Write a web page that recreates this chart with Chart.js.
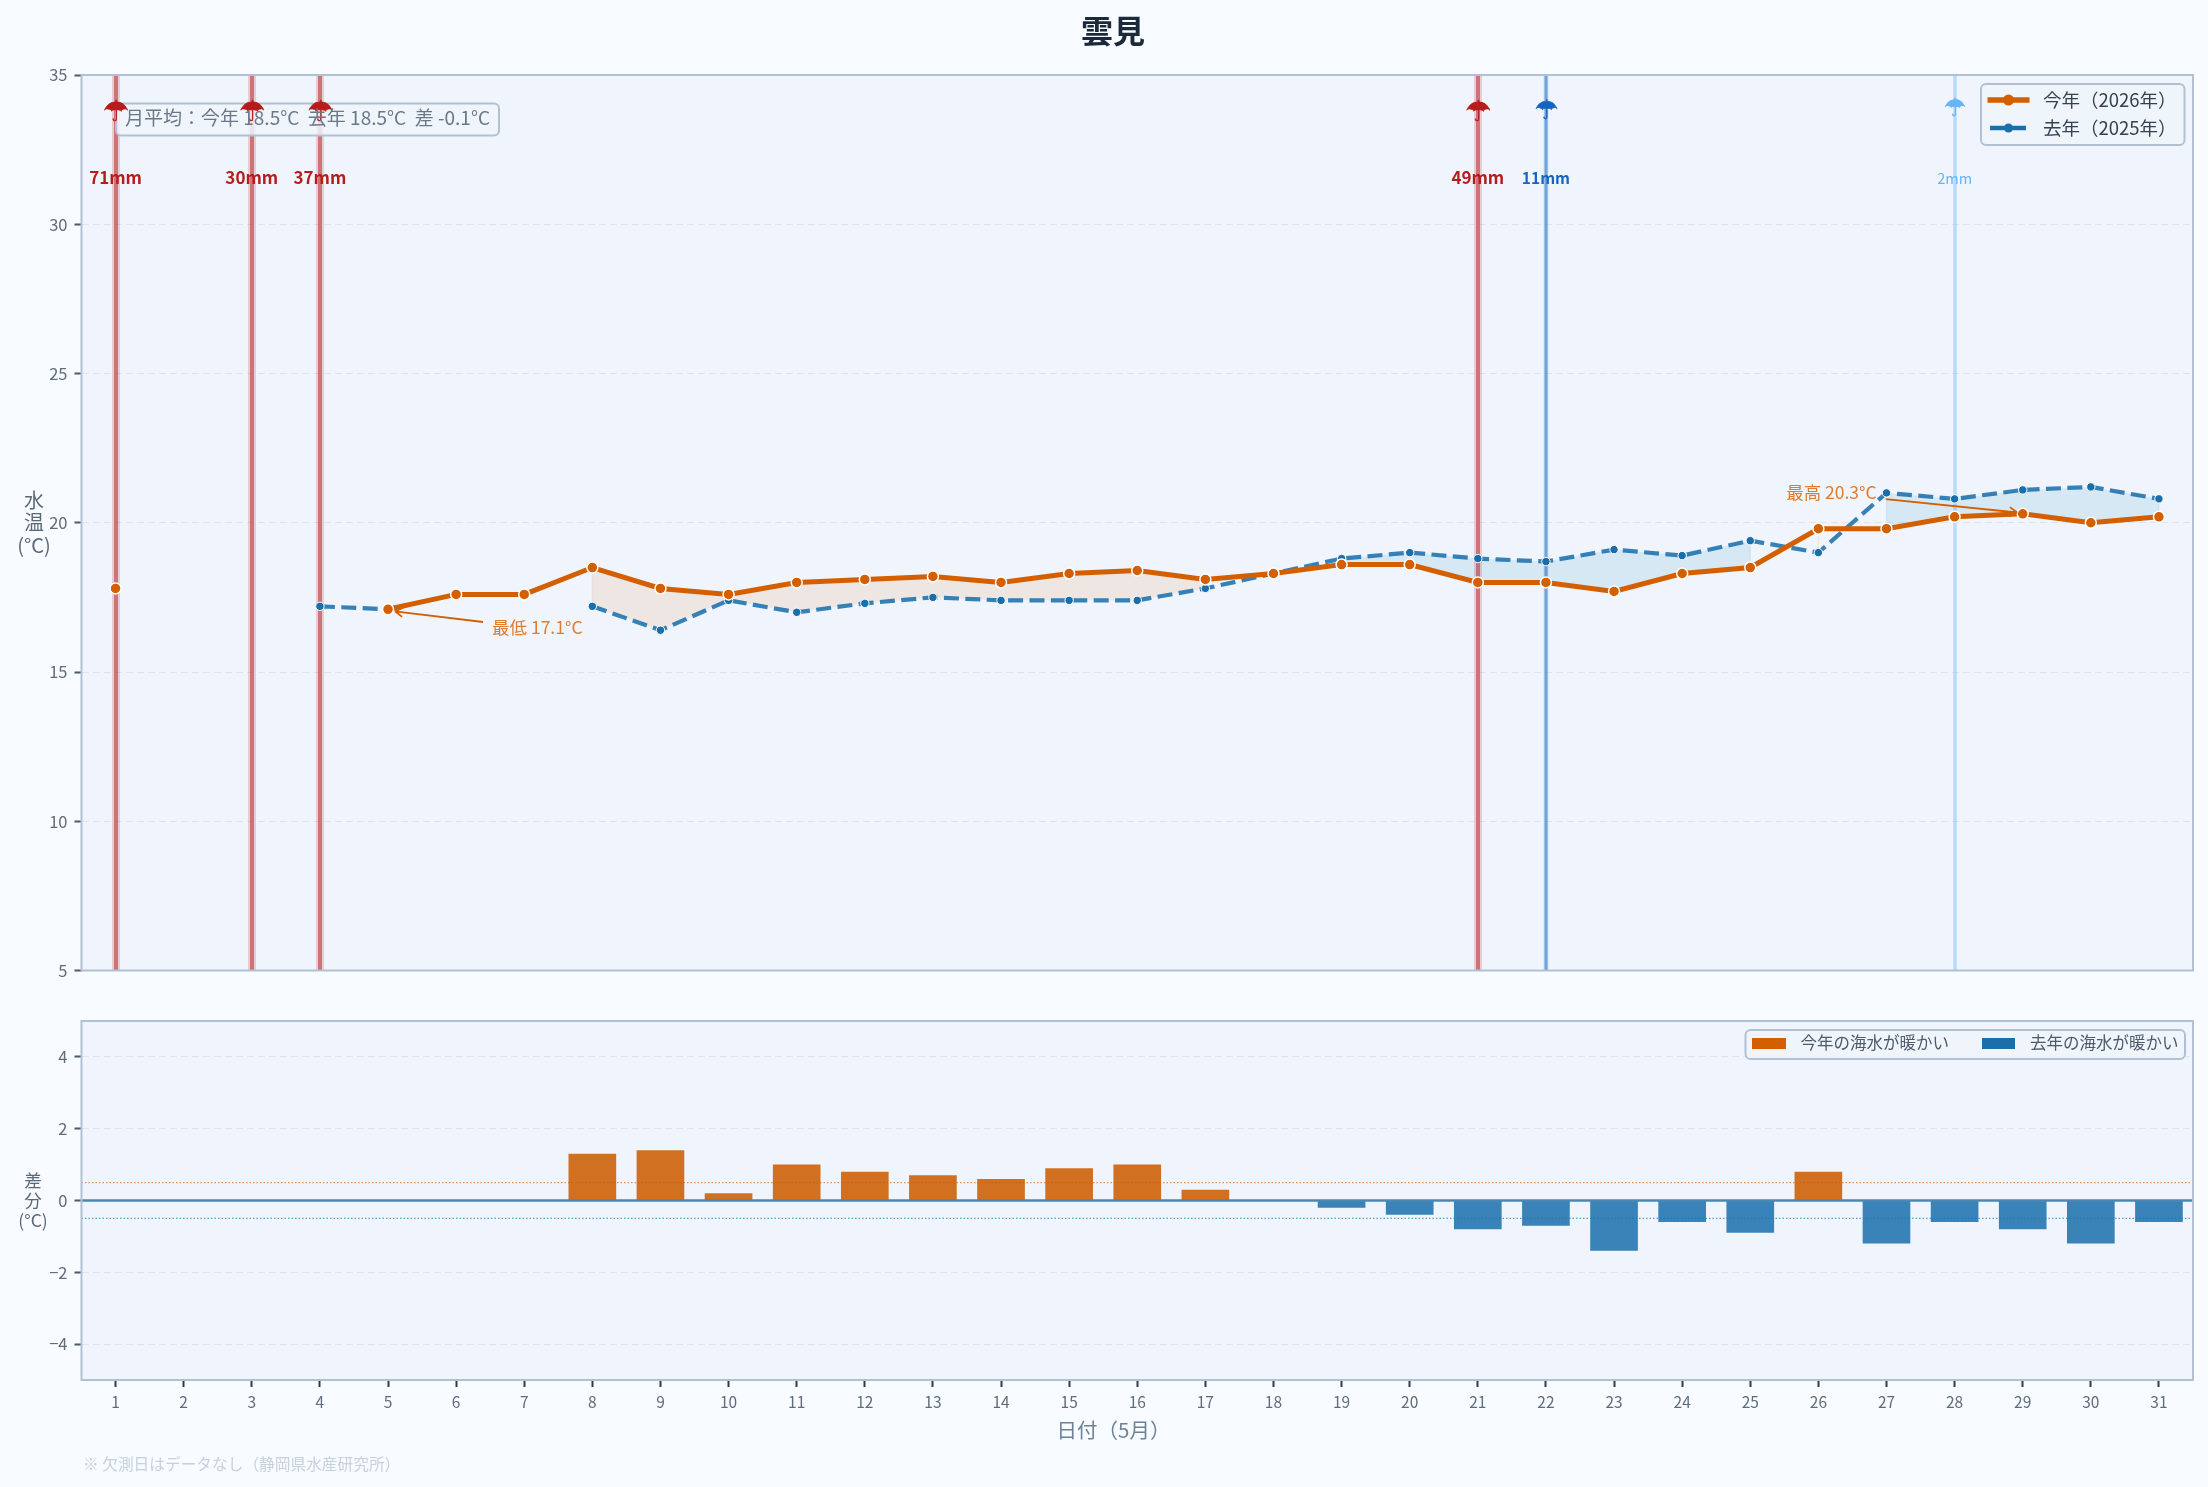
<!DOCTYPE html>
<html lang="ja">
<head>
<meta charset="utf-8">
<title>雲見</title>
<script src="https://cdn.jsdelivr.net/npm/chart.js@4/dist/chart.umd.min.js"></script>
<style>
  html, body { margin: 0; padding: 0; background: #F8FBFF; }
  #page { position: relative; width: 2208px; height: 1487px; overflow: hidden; }
  canvas { position: absolute; left: 0; display: block; }
  #tempChart { top: 0; }
  #diffChart { top: 1000px; }
</style>
</head>
<body>
<div id="page">
  <canvas id="tempChart" width="2208" height="1000"></canvas>
  <canvas id="diffChart" width="2208" height="487"></canvas>
</div>
<script>
// Water temperature at Kumomi, May: this year against last year
const days = [1,2,3,4,5,6,7,8,9,10,11,12,13,14,15,16,17,18,19,20,21,22,23,24,25,26,27,28,29,30,31];
const tempThisYear = [17.8,null,null,null,17.1,17.6,17.6,18.5,17.8,17.6,18.0,18.1,18.2,18.0,18.3,18.4,18.1,18.3,18.6,18.6,18.0,18.0,17.7,18.3,18.5,19.8,19.8,20.2,20.3,20.0,20.2];
const tempLastYear = [null,null,null,17.2,17.1,null,null,17.2,16.4,17.4,17.0,17.3,17.5,17.4,17.4,17.4,17.8,18.3,18.8,19.0,18.8,18.7,19.1,18.9,19.4,19.0,21.0,20.8,21.1,21.2,20.8];
const tempDiff = [null,null,null,null,0,null,null,1.3,1.4,0.2,1.0,0.8,0.7,0.6,0.9,1.0,0.3,0,-0.2,-0.4,-0.8,-0.7,-1.4,-0.6,-0.9,0.8,-1.2,-0.6,-0.8,-1.2,-0.6];
const rainDays = [1,3,4,21,22,28];
const rainMm = [71,30,37,49,11,2];
const tempTicks = [5,10,15,20,25,30,35];
const diffTicks = [-4,-2,0,2,4];
const seriesNames = ['今年（2026年）','去年（2025年）'];
const diffNames = ['今年の海水が暖かい','去年の海水が暖かい'];
const lowDay = 5, highDay = 29;
const lowLabel = '最低 17.1°C', highLabel = '最高 20.3°C';
const averageLabel = '月平均：今年 18.5°C  去年 18.5°C  差 -0.1°C';
const titleText = '雲見';
const xTitle = '日付（5月）';
const footNote = '※ 欠測日はデータなし（静岡県水産研究所）';

const FONT = "'Noto Sans CJK JP'";
const ORANGE = '#D35F00', BLUE = '#1A6FAB';
const PANEL = '#F0F5FD', SPINE = '#B0C1D3', TICK_TEXT = '#5E6C7B', GRID = '#DCE5EF';

Chart.defaults.font.family = FONT;
Chart.defaults.animation = false;

const masked = (values, test) => values.map((v, i) => (test(i) ? v : null));
const isWarm = i => tempThisYear[i] !== null && tempLastYear[i] !== null && tempThisYear[i] > tempLastYear[i];
const isCool = i => tempThisYear[i] !== null && tempLastYear[i] !== null && tempThisYear[i] < tempLastYear[i];

function label(ctx, text, x, y, font, color, align = 'center') {
  ctx.font = font;
  ctx.fillStyle = color;
  ctx.textAlign = align;
  ctx.textBaseline = 'middle';
  ctx.fillText(text, x, y);
}

// Umbrella glyph, centred on its inked bounds
function umbrella(ctx, x, cy, size, color) {
  ctx.font = `${size}px 'DejaVu Sans'`;
  ctx.textAlign = 'center';
  ctx.textBaseline = 'alphabetic';
  const m = ctx.measureText('☂');
  const y = cy + (m.actualBoundingBoxAscent - m.actualBoundingBoxDescent) / 2;
  ctx.fillStyle = color;
  ctx.strokeStyle = color;
  ctx.lineWidth = 0.6;
  ctx.fillText('☂', x, y);
  ctx.strokeText('☂', x, y);
}

function roundedBox(ctx, x0, y0, x1, y1, fill) {
  ctx.beginPath();
  ctx.roundRect(x0, y0, x1 - x0, y1 - y0, 5);
  ctx.fillStyle = fill;
  ctx.fill();
  ctx.lineWidth = 2;
  ctx.strokeStyle = SPINE;
  ctx.stroke();
}

function panelBackground(chart) {
  const { ctx, chartArea: a } = chart;
  ctx.fillStyle = PANEL;
  ctx.fillRect(a.left, a.top, a.right - a.left, a.bottom - a.top);
}

function panelFrame(chart) {
  const { ctx, chartArea: a } = chart;
  ctx.save();
  ctx.strokeStyle = SPINE;
  ctx.lineWidth = 2;
  ctx.strokeRect(a.left, a.top, a.right - a.left, a.bottom - a.top);
  ctx.restore();
}

// Rain intensity picks the colour, width and text size of each marker
function rainStyle(mm) {
  if (mm >= 30) return { color: '183,28,28', core: 4, band: 8, coreA: 0.5, bandA: 0.18, glyph: 29, cy: 110.5, text: `bold 17px ${FONT}` };
  if (mm >= 10) return { color: '21,101,192', core: 3, band: 5, coreA: 0.5, bandA: 0.15, glyph: 26.5, cy: 109, text: `bold 15.5px ${FONT}` };
  return { color: '100,181,246', core: 3.5, band: 3.5, coreA: 0.4, bandA: 0, glyph: 24.5, cy: 107, text: `14.5px ${FONT}` };
}

function arrow(ctx, x0, y0, x1, y1) {
  const ang = Math.atan2(y1 - y0, x1 - x0);
  ctx.strokeStyle = ORANGE;
  ctx.lineWidth = 1.8;
  ctx.beginPath();
  ctx.moveTo(x0, y0);
  ctx.lineTo(x1, y1);
  for (const d of [2.6, -2.6]) {
    ctx.moveTo(x1, y1);
    ctx.lineTo(x1 + 9 * Math.cos(ang + d), y1 + 9 * Math.sin(ang + d));
  }
  ctx.stroke();
}

const tempDecor = {
  id: 'tempDecor',
  beforeDraw: panelBackground,
  beforeDatasetsDraw(chart) {
    const { ctx, chartArea: a, scales: { x, y } } = chart;
    ctx.save();
    // Rain markers run the full height of the panel
    rainDays.forEach((d, i) => {
      const s = rainStyle(rainMm[i]);
      const px = Math.round(x.getPixelForValue(d - 1));
      if (s.bandA) {
        ctx.fillStyle = `rgba(${s.color},${s.bandA})`;
        ctx.fillRect(px - s.band / 2, a.top, s.band, a.bottom - a.top);
      }
      ctx.fillStyle = `rgba(${s.color},${s.coreA})`;
      ctx.fillRect(px - s.core / 2, a.top, s.core, a.bottom - a.top);
    });
    // Closing edges of the shaded differences
    ctx.lineWidth = 1.5;
    days.forEach((d, i) => {
      const warm = isWarm(i), cool = isCool(i);
      if (!warm && !cool) return;
      const test = warm ? isWarm : isCool;
      if (i > 0 && i < days.length - 1 && test(i - 1) && test(i + 1)) return;
      const px = x.getPixelForValue(i);
      ctx.strokeStyle = warm ? 'rgba(213,94,0,0.1)' : 'rgba(0,114,178,0.1)';
      ctx.beginPath();
      ctx.moveTo(px, y.getPixelForValue(tempThisYear[i]));
      ctx.lineTo(px, y.getPixelForValue(tempLastYear[i]));
      ctx.stroke();
    });
    ctx.restore();
  },
  afterDatasetsDraw(chart) {
    const { ctx, scales: { x, y } } = chart;
    ctx.save();
    // Monthly average box; its text sits above the umbrellas
    roundedBox(ctx, 116, 103.5, 499, 135.5, 'rgba(240,245,252,0.85)');
    rainDays.forEach((d, i) => {
      const s = rainStyle(rainMm[i]);
      const px = x.getPixelForValue(d - 1);
      umbrella(ctx, px + 0.5, s.cy, s.glyph, `rgb(${s.color})`);
      label(ctx, `${rainMm[i]}mm`, px, 178, s.text, `rgb(${s.color})`);
    });
    label(ctx, averageLabel, 125, 118, `19px ${FONT}`, '#6A7888', 'left');

    // Low and high callouts
    const lx = x.getPixelForValue(lowDay - 1), ly = y.getPixelForValue(tempThisYear[lowDay - 1]);
    arrow(ctx, lx + 95, ly + 12.7, lx + 7, ly + 2);
    label(ctx, lowLabel, lx + 104, ly + 18, `17.5px ${FONT}`, '#E07C2E', 'left');
    const hx = x.getPixelForValue(highDay - 1), hy = y.getPixelForValue(tempThisYear[highDay - 1]);
    arrow(ctx, hx - 137, hy - 14.7, hx - 5.6, hy - 1.3);
    label(ctx, highLabel, hx - 146, hy - 21, `17.5px ${FONT}`, '#E07C2E', 'right');

    // Series legend
    roundedBox(ctx, 1981, 84, 2184.5, 145, 'rgba(240,245,252,0.9)');
    ctx.strokeStyle = ORANGE; ctx.lineWidth = 5.5;
    ctx.beginPath(); ctx.moveTo(1987.5, 100); ctx.lineTo(2029.5, 100); ctx.stroke();
    ctx.fillStyle = ORANGE; ctx.beginPath(); ctx.arc(2008.5, 100, 5.5, 0, 7); ctx.fill();
    ctx.strokeStyle = BLUE; ctx.lineWidth = 4.5;
    ctx.beginPath(); ctx.moveTo(1990, 128); ctx.lineTo(2026, 128); ctx.stroke();
    ctx.fillStyle = BLUE; ctx.beginPath(); ctx.arc(2008.5, 128, 4.5, 0, 7); ctx.fill();
    label(ctx, seriesNames[0], 2043, 100, `18.5px ${FONT}`, '#35434F', 'left');
    label(ctx, seriesNames[1], 2043, 128, `18.5px ${FONT}`, '#35434F', 'left');

    // Page title and the vertical axis caption
    label(ctx, titleText, 1113, 31, `bold 32px ${FONT}`, '#1A2A3A');
    ['水', '温', '(°C)'].forEach((t, i) => label(ctx, t, 34, [500, 522, 545][i], `20px ${FONT}`, '#5A6878'));
    ctx.restore();
  },
  afterDraw: panelFrame
};

const diffDecor = {
  id: 'diffDecor',
  beforeDraw: panelBackground,
  beforeDatasetsDraw(chart) {
    const { ctx, chartArea: a, scales: { y } } = chart;
    ctx.save();
    ctx.lineWidth = 1.2;
    ctx.setLineDash([1.5, 2]);
    [[0.5, 'rgba(213,94,0,0.65)'], [-0.5, 'rgba(0,114,178,0.65)']].forEach(([v, c]) => {
      ctx.strokeStyle = c;
      ctx.beginPath();
      ctx.moveTo(a.left, y.getPixelForValue(v));
      ctx.lineTo(a.right, y.getPixelForValue(v));
      ctx.stroke();
    });
    ctx.restore();
  },
  afterDatasetsDraw(chart) {
    const { ctx, chartArea: a, scales: { y } } = chart;
    ctx.save();
    // Zero line
    ctx.strokeStyle = '#4A87B2';
    ctx.lineWidth = 2.5;
    ctx.beginPath();
    ctx.moveTo(a.left, y.getPixelForValue(0));
    ctx.lineTo(a.right, y.getPixelForValue(0));
    ctx.stroke();

    // Sign legend
    roundedBox(ctx, 1745.5, 30, 2185, 59, 'rgba(240,245,252,0.9)');
    ctx.fillStyle = ORANGE; ctx.fillRect(1752, 38, 34, 11);
    ctx.fillStyle = BLUE; ctx.fillRect(1982, 38, 33, 11);
    label(ctx, diffNames[0], 1800.5, 43, `16.5px ${FONT}`, '#4D5B6A', 'left');
    label(ctx, diffNames[1], 2030, 43, `16.5px ${FONT}`, '#4D5B6A', 'left');

    ['差', '分', '(°C)'].forEach((t, i) => label(ctx, t, 33, [180, 200, 220][i], `17.5px ${FONT}`, '#5A6878'));
    label(ctx, xTitle, 1113.5, 430.5, `20.5px ${FONT}`, '#6B8299');
    label(ctx, footNote, 83, 464, `15.7px ${FONT}`, '#C6D1DD', 'left');
    ctx.restore();
  },
  afterDraw: panelFrame
};

const yAxis = (ticksList, min, max, fmt) => ({
  min, max,
  afterBuildTicks: s => { s.ticks = ticksList.map(value => ({ value })); },
  afterFit: s => { s.width = 81.5; },
  border: { display: false, dash: [7, 4] },
  grid: { color: GRID, lineWidth: 1, tickColor: '#4C5A68', tickWidth: 2, tickLength: 7, tickBorderDash: [] },
  ticks: { color: TICK_TEXT, padding: 7, font: { size: 16.5 }, callback: fmt }
});

new Chart(document.getElementById('tempChart'), {
  type: 'line',
  data: {
    labels: days,
    datasets: [
      { label: seriesNames[0], data: tempThisYear, borderColor: ORANGE, backgroundColor: ORANGE, borderWidth: 5,
        pointRadius: 5.5, pointBorderColor: '#FFFFFF', pointBorderWidth: 1.5, pointBackgroundColor: ORANGE, order: 1, spanGaps: false, tension: 0 },
      { label: seriesNames[1], data: tempLastYear, borderColor: 'rgba(26,111,171,0.87)', backgroundColor: BLUE, borderWidth: 4.2, borderDash: [15, 6.4],
        pointRadius: 4.2, pointBorderColor: '#FFFFFF', pointBorderWidth: 1, pointBackgroundColor: BLUE, order: 2, spanGaps: false, tension: 0 },
      { data: masked(tempThisYear, isWarm), borderWidth: 0, pointRadius: 0, order: 5, fill: { target: 3, above: 'rgba(213,94,0,0.1)', below: 'rgba(213,94,0,0.1)' } },
      { data: masked(tempLastYear, isWarm), borderWidth: 0, pointRadius: 0, order: 6 },
      { data: masked(tempThisYear, isCool), borderWidth: 0, pointRadius: 0, order: 5, fill: { target: 5, above: 'rgba(0,114,178,0.1)', below: 'rgba(0,114,178,0.1)' } },
      { data: masked(tempLastYear, isCool), borderWidth: 0, pointRadius: 0, order: 6 }
    ]
  },
  options: {
    responsive: false,
    devicePixelRatio: 1,
    layout: { padding: { left: 0, top: 75, right: 15, bottom: 29.5 } },
    plugins: { legend: { display: false }, title: { display: false }, tooltip: { enabled: false } },
    scales: {
      x: { display: false, offset: true },
      y: yAxis(tempTicks, 5, 35, v => String(v))
    }
  },
  plugins: [tempDecor]
});

new Chart(document.getElementById('diffChart'), {
  type: 'bar',
  data: {
    labels: days,
    datasets: [{
      data: tempDiff,
      barPercentage: 0.7,
      categoryPercentage: 1,
      borderWidth: 0,
      backgroundColor: c => (c.raw >= 0 ? 'rgba(205,92,0,0.87)' : 'rgba(26,111,171,0.85)')
    }]
  },
  options: {
    responsive: false,
    devicePixelRatio: 1,
    layout: { padding: { left: 0, top: 21, right: 15, bottom: 0 } },
    plugins: { legend: { display: false }, title: { display: false }, tooltip: { enabled: false } },
    scales: {
      x: {
        offset: true,
        afterFit: s => { s.height = 107; },
        border: { display: false },
        grid: { offset: false, drawOnChartArea: false, tickColor: '#333C46', tickWidth: 2, tickLength: 7 },
        ticks: { color: TICK_TEXT, padding: 6, font: { size: 15.5 }, autoSkip: false, maxRotation: 0 }
      },
      y: yAxis(diffTicks, -5, 5, v => String(v).replace('-', '\u2212'))
    }
  },
  plugins: [diffDecor]
});
</script>
</body>
</html>
